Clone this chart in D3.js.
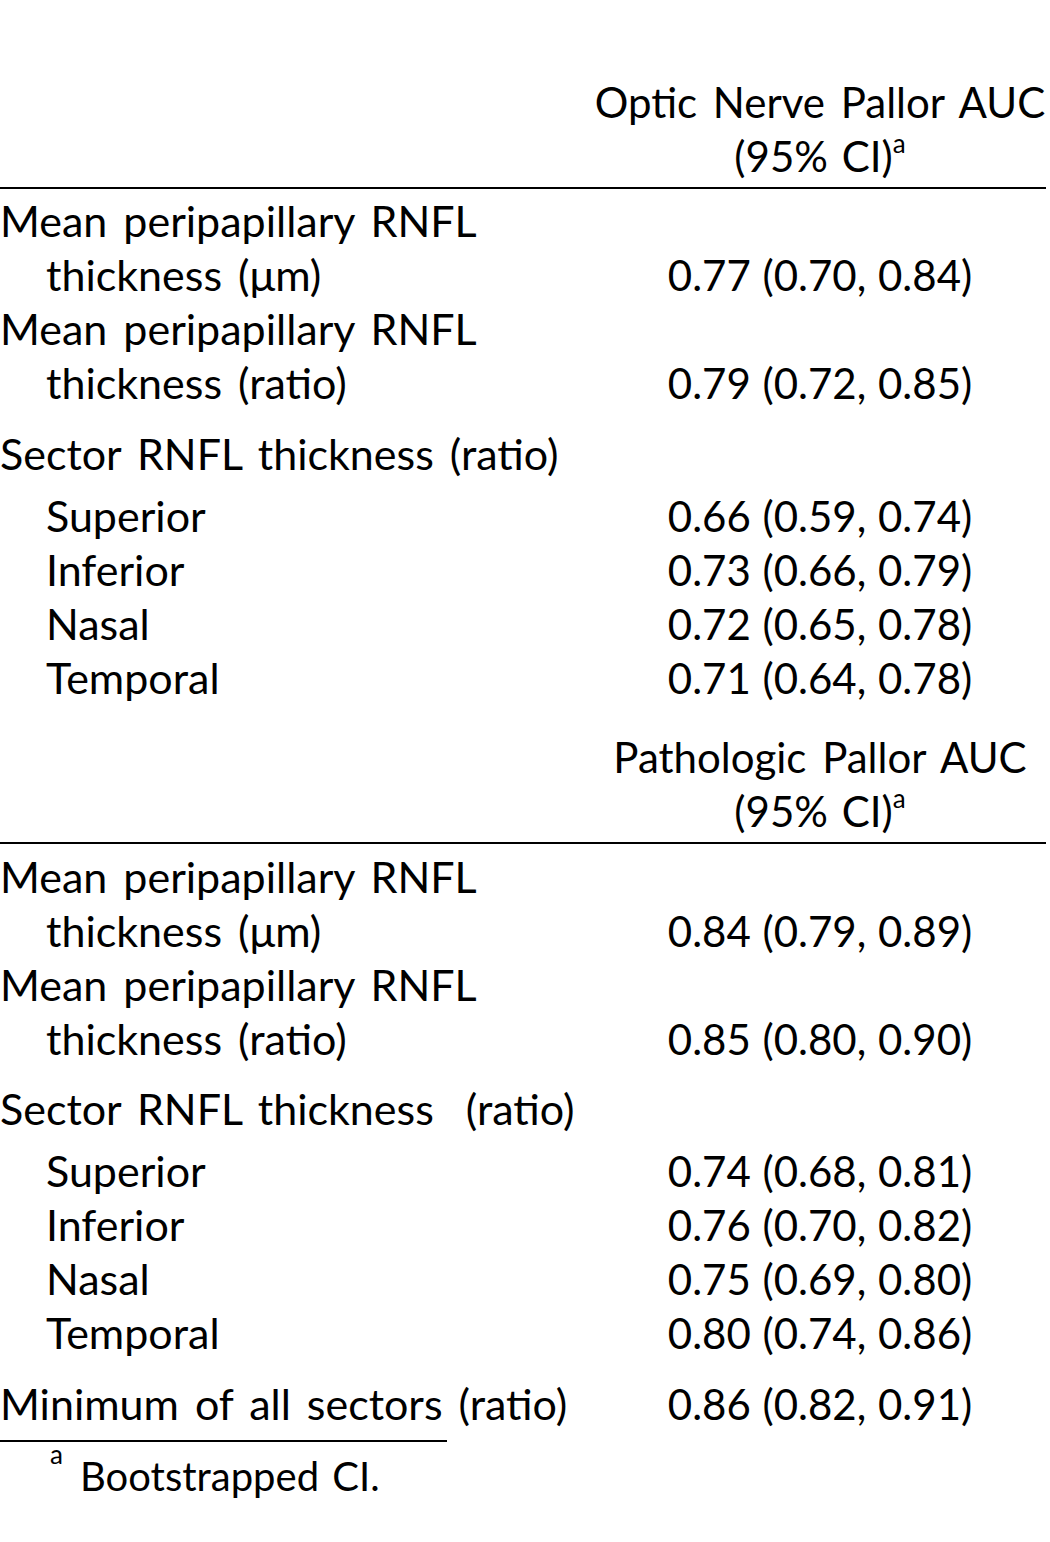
<!DOCTYPE html>
<html><head><meta charset="utf-8">
<script src="https://cdn.jsdelivr.net/npm/d3@7"></script>
<style>
html,body{margin:0;padding:0;background:#fff;}
svg text{font-family:"Lato",sans-serif;fill:#000;}
</style></head>
<body>
<svg id="chart" width="1050" height="1542"></svg>
<script>
// ---- data ----
const sectionTitles = ["Optic Nerve Pallor AUC", "Pathologic Pallor AUC"];
const ciHeader = "(95% CI)";
const measures1 = ["Mean peripapillary RNFL|thickness (\u03bcm)", "Mean peripapillary RNFL|thickness (ratio)"];
const sectorLabel1 = "Sector RNFL thickness (ratio)";
const sectorLabel2 = "Sector RNFL thickness\u00a0\u00a0(ratio)";
const sectors = ["Superior", "Inferior", "Nasal", "Temporal"];
const minLabel = "Minimum of all sectors (ratio)";
const aucOptic   = [0.77, 0.79, 0.66, 0.73, 0.72, 0.71];
const lowOptic   = [0.70, 0.72, 0.59, 0.66, 0.65, 0.64];
const highOptic  = [0.84, 0.85, 0.74, 0.79, 0.78, 0.78];
const aucPath    = [0.84, 0.85, 0.74, 0.76, 0.75, 0.80, 0.86];
const lowPath    = [0.79, 0.80, 0.68, 0.70, 0.69, 0.74, 0.82];
const highPath   = [0.89, 0.90, 0.81, 0.82, 0.80, 0.86, 0.91];
const footnote = "Bootstrapped CI.";

const svg = d3.select("#chart");
const FS = 43;      // labels
const FSV = 42;     // values
const fmt = d3.format(".2f");
const ciText = (a, l, h) => `${fmt(a)} (${fmt(l)}, ${fmt(h)})`;
const colCenter = 820;
const indent = 46;
const lineStep = 54;

function txt(x, y, s, anchor, fs, ws) {
  return svg.append("text").attr("x", x).attr("y", y).attr("dy", "0.35em")
    .attr("font-size", fs || FS).attr("word-spacing", ws == null ? 5 : ws)
    .attr("text-anchor", anchor || "start").text(s);
}
function val(y, a, l, h) {
  return txt(colCenter, y, ciText(a, l, h), "middle", FSV, 1);
}
function header(y0, title) {
  txt(colCenter, y0, title, "middle", FSV, 5);
  const t = txt(colCenter, y0 + lineStep, ciHeader, "middle", FSV, 3);
  t.append("tspan").attr("font-size", FSV * 0.62).attr("dy", "-0.7em").text("a");
  svg.append("line").attr("x1", 0).attr("x2", 1046).attr("y1", y0 + 85).attr("y2", y0 + 85)
    .attr("stroke", "#000").attr("stroke-width", 2);
}
function block(y0, auc, low, high, sectorLabel, sectorGap) {
  let y = y0;
  measures1.forEach((m, i) => {
    const [a, b] = m.split("|");
    txt(0, y, a);
    txt(indent, y + lineStep, b);
    val(y + lineStep, auc[i], low[i], high[i]);
    y += 2 * lineStep;
  });
  y += sectorGap[0];
  txt(0, y, sectorLabel);
  y += sectorGap[1];
  sectors.forEach((s, j) => {
    txt(indent, y, s);
    val(y, auc[j + 2], low[j + 2], high[j + 2]);
    y += lineStep;
  });
  return y;
}

header(103, sectionTitles[0]);
block(222, aucOptic, lowOptic, highOptic, sectorLabel1, [17, 62]);
header(758, sectionTitles[1]);
block(878, aucPath, lowPath, highPath, sectorLabel2, [16, 62]);
const yMin = 1405;
txt(0, yMin, minLabel);
val(yMin, aucPath[6], lowPath[6], highPath[6]);
svg.append("line").attr("x1", 0).attr("x2", 447).attr("y1", 1441).attr("y2", 1441)
  .attr("stroke", "#000").attr("stroke-width", 2);
svg.append("text").attr("x", 50).attr("y", 1464).attr("font-size", FSV * 0.62).text("a");
txt(80, 1477, footnote, "start", 40, 3);
</script>
</body></html>
